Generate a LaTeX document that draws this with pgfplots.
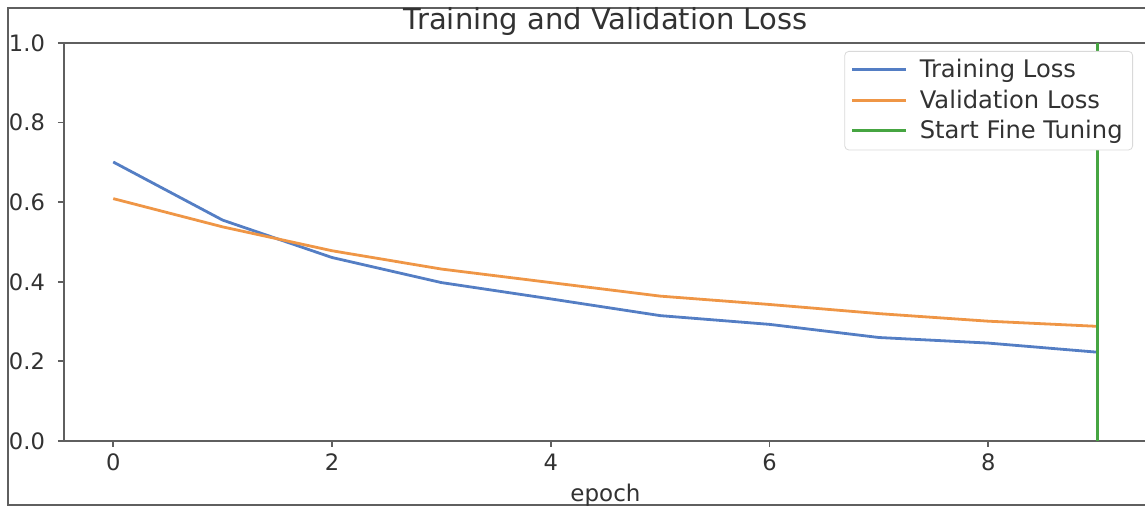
\documentclass[border=0pt]{standalone}
\usepackage{fontspec}
\setmainfont{DejaVu Sans}
\usepackage{pgfplots}
\pgfplotsset{compat=1.18}

\definecolor{trainblue}{RGB}{84,126,196}
\definecolor{valorange}{RGB}{239,150,70}
\definecolor{ftgreen}{RGB}{70,165,65}
\definecolor{spine}{RGB}{95,95,95}
\definecolor{txt}{RGB}{50,50,50}

\begin{document}
\begin{tikzpicture}
% page = 1145 x 507 px at 0.5pt per px, axis box south west at origin
\useasboundingbox (-32pt,-33pt) rectangle (540.5pt,220.5pt);
\draw[line width=1.4pt, spine] (-28pt,-32pt) rectangle (560pt,216.5pt);

\begin{axis}[
    at={(0,0)}, anchor=south west,
    scale only axis,
    width=541.5pt, height=199pt,
    xmin=-0.45, xmax=9.45,
    ymin=0, ymax=1,
    xtick={0,2,4,6,8},
    ytick={0,0.2,0.4,0.6,0.8,1.0},
    yticklabel style={/pgf/number format/fixed, /pgf/number format/fixed zerofill,
        /pgf/number format/precision=1, xshift=-3pt},
    /pgf/number format/assume math mode=true,
    tick align=outside,
    tick pos=left,
    major tick length=3pt,
    tick style={spine, line width=0.9pt},
    axis line style={spine, line width=1pt},
    ticklabel style={font=\fontsize{11.3}{13}\selectfont, text=txt},
    xlabel={epoch},
    xlabel style={font=\fontsize{11.5}{13}\selectfont, text=txt, yshift=0.5pt},
    title={Training and Validation Loss},
    title style={font=\fontsize{14.5}{16}\selectfont, text=txt, yshift=-6pt},
    legend style={at={(1,1)}, anchor=north east, xshift=-7pt, yshift=-4pt,
        draw=black!15, rounded corners=2pt, font=\fontsize{12.1}{14}\selectfont,
        text=txt, row sep=0.6pt, column sep=4pt, inner xsep=3pt, inner ysep=2pt},
    legend image code/.code={\draw[#1, line width=1.5pt] (0pt,0.3pt) -- (27pt,0.3pt);},
    legend cell align=left,
]
\addplot[trainblue, line width=1.4pt] coordinates {
    (0,0.701)(1,0.555)(2,0.461)(3,0.398)(4,0.357)
    (5,0.315)(6,0.293)(7,0.260)(8,0.246)(9,0.223)
};
\addplot[valorange, line width=1.4pt] coordinates {
    (0,0.609)(1,0.538)(2,0.478)(3,0.432)(4,0.398)
    (5,0.364)(6,0.343)(7,0.320)(8,0.301)(9,0.288)
};
\addplot[ftgreen, line width=1.4pt] coordinates {(9,0)(9,1)};
\legend{Training Loss, Validation Loss, Start Fine Tuning}
\end{axis}
\end{tikzpicture}
\end{document}
